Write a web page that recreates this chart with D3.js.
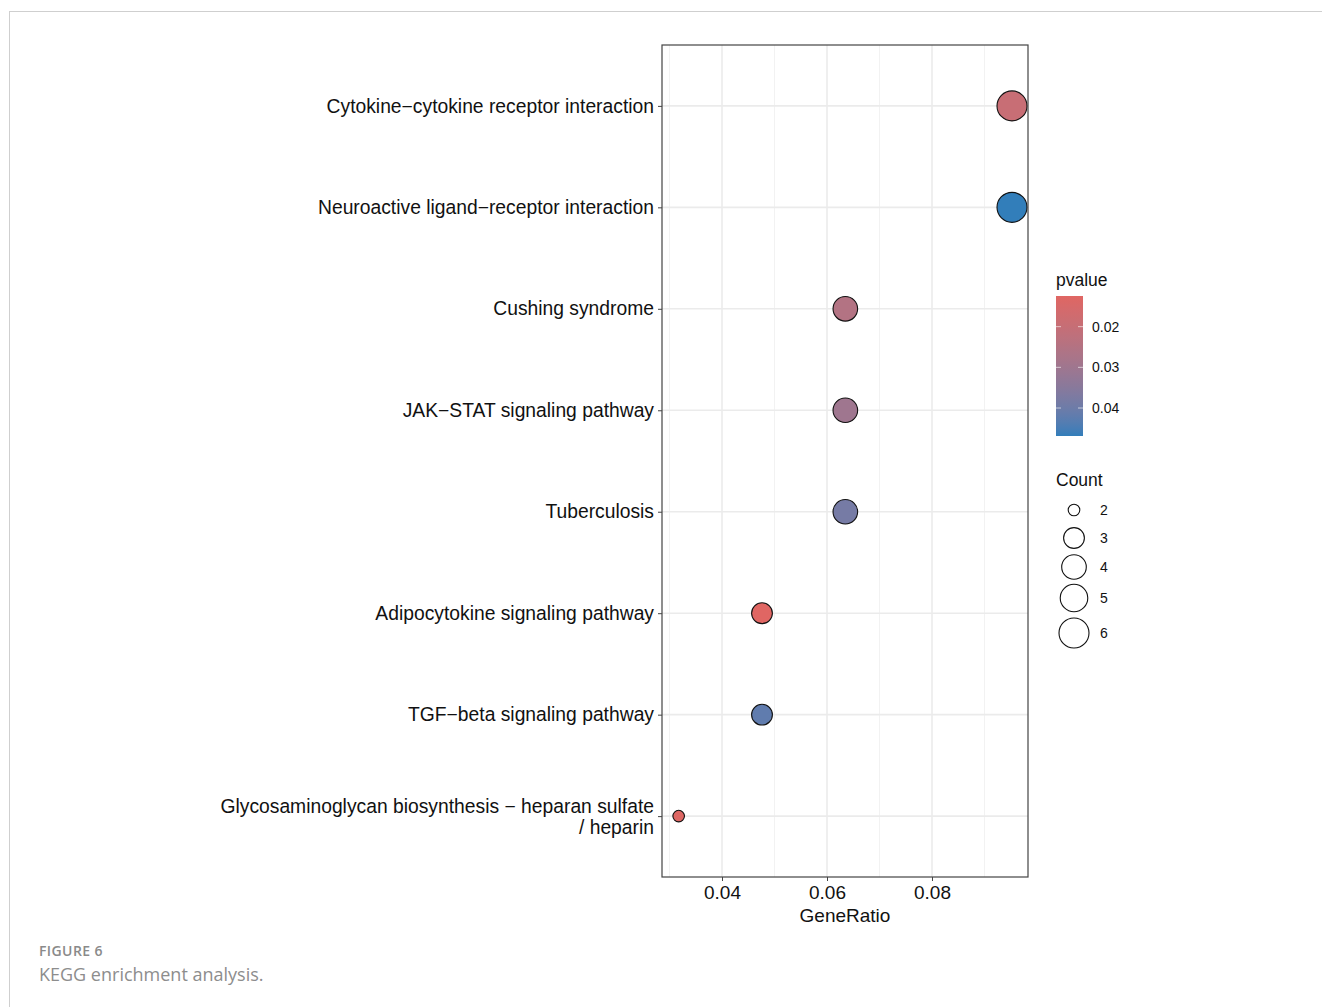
<!DOCTYPE html>
<html>
<head>
<meta charset="utf-8">
<script src="https://cdn.jsdelivr.net/npm/d3@7"></script>
<style>
  html, body { margin: 0; padding: 0; background: #fff; }
  svg { display: block; }
  .plot text { font-family: "Liberation Sans", Arial, sans-serif; }
  .caption { font-family: "Open Sans", sans-serif; }
</style>
</head>
<body>
<svg id="chart" width="1322" height="1007"></svg>
<script>
// KEGG pathways (top to bottom)
const pathways = [
  "Cytokine−cytokine receptor interaction",
  "Neuroactive ligand−receptor interaction",
  "Cushing syndrome",
  "JAK−STAT signaling pathway",
  "Tuberculosis",
  "Adipocytokine signaling pathway",
  "TGF−beta signaling pathway",
  "Glycosaminoglycan biosynthesis − heparan sulfate / heparin"
];
const geneRatio = [6/63, 6/63, 4/63, 4/63, 4/63, 3/63, 3/63, 2/63];
const geneCount = [6, 6, 4, 4, 4, 3, 3, 2];
const pvalues   = [0.0195, 0.0469, 0.0250, 0.0300, 0.0385, 0.0125, 0.0420, 0.0130];

const xTicks = [0.04, 0.06, 0.08];
const xMinor = [0.03, 0.05, 0.07, 0.09];
const pTicks = [0.02, 0.03, 0.04];
const countTicks = [2, 3, 4, 5, 6];

const svg = d3.select("#chart");

// page frame and caption
svg.append("line").attr("x1", 9.5).attr("x2", 9.5).attr("y1", 11).attr("y2", 1007)
  .attr("stroke", "#cfcfcf").attr("stroke-width", 1);
svg.append("line").attr("x1", 9).attr("x2", 1322).attr("y1", 11.5).attr("y2", 11.5)
  .attr("stroke", "#cfcfcf").attr("stroke-width", 1);
svg.append("text").attr("class", "caption").attr("x", 39).attr("y", 956)
  .style("font-size", "14px").style("font-weight", 600)
  .attr("fill", "#8a8a8a").attr("letter-spacing", 0.4).text("FIGURE 6");
svg.append("text").attr("class", "caption").attr("x", 39).attr("y", 981)
  .style("font-size", "18px")
  .attr("fill", "#8d8d8d").text("KEGG enrichment analysis.");

// plot panel
const panel = { left: 662, right: 1028, top: 45, bottom: 877 };

const x = d3.scaleLinear().domain([0.028571, 0.098286]).range([panel.left, panel.right]);
const y = d3.scalePoint().domain(pathways).range([panel.top, panel.bottom]).padding(0.6);

const pExtent = [0.01246, 0.04688];
const color = d3.scaleLinear().domain(pExtent).range(["#e06663", "#327eba"])
  .interpolate(d3.interpolateLab);

const countMin = d3.min(geneCount), countMax = d3.max(geneCount);
const sizeScale = d3.scalePow().exponent(0.5).domain([0, countMax - countMin]).range([5.8, 15]);
const radius = c => sizeScale(c - countMin);

const plot = svg.append("g").attr("class", "plot");
const g = plot.append("g");

// grid
g.selectAll(".minor").data(xMinor).join("line")
  .attr("x1", d => x(d)).attr("x2", d => x(d))
  .attr("y1", panel.top).attr("y2", panel.bottom)
  .attr("stroke", "#f2f2f2").attr("stroke-width", 1);
g.selectAll(".major").data(xTicks).join("line")
  .attr("x1", d => x(d)).attr("x2", d => x(d))
  .attr("y1", panel.top).attr("y2", panel.bottom)
  .attr("stroke", "#ebebeb").attr("stroke-width", 1.6);
g.selectAll(".hgrid").data(pathways).join("line")
  .attr("x1", panel.left).attr("x2", panel.right)
  .attr("y1", d => y(d)).attr("y2", d => y(d))
  .attr("stroke", "#ebebeb").attr("stroke-width", 1.6);

// points
const rows = pathways.map((p, i) => ({ p, r: geneRatio[i], c: geneCount[i], pv: pvalues[i] }));
g.selectAll("circle.pt").data(rows).join("circle")
  .attr("cx", d => x(d.r)).attr("cy", d => y(d.p))
  .attr("r", d => radius(d.c))
  .attr("fill", d => color(d.pv))
  .attr("stroke", "#111").attr("stroke-width", 1.1);

// panel border
g.append("rect").attr("x", panel.left).attr("y", panel.top)
  .attr("width", panel.right - panel.left).attr("height", panel.bottom - panel.top)
  .attr("fill", "none").attr("stroke", "#444").attr("stroke-width", 1.2);

// x axis
const xAxis = d3.axisBottom(x).tickValues(xTicks).tickSize(4).tickPadding(5)
  .tickFormat(d3.format(".2f"));
const xa = plot.append("g").attr("transform", `translate(0,${panel.bottom})`).call(xAxis);
xa.select(".domain").remove();
xa.selectAll(".tick line").attr("stroke", "#444");
xa.selectAll(".tick text").style("font-size", "19px").attr("fill", "#111");
plot.append("text").attr("x", (panel.left + panel.right) / 2).attr("y", 922)
  .attr("text-anchor", "middle").style("font-size", "19px").attr("fill", "#111").text("GeneRatio");

// y axis (long labels wrapped)
const yAxis = d3.axisLeft(y).tickSize(4).tickPadding(4);
const ya = plot.append("g").attr("transform", `translate(${panel.left},0)`).call(yAxis);
ya.select(".domain").remove();
ya.selectAll(".tick line").attr("stroke", "#444");
ya.selectAll(".tick text").style("font-size", "19.3px").attr("fill", "#111")
  .each(function(d) {
    const t = d3.select(this);
    const split = d.indexOf(" / ");
    if (split > 0) {
      const first = d.slice(0, split), second = d.slice(split + 1);
      t.text(null).attr("dy", null);
      t.append("tspan").attr("x", -8).attr("dy", "-0.18em").text(first);
      t.append("tspan").attr("x", -8).attr("dy", "1.1em").text(second);
    }
  });

// colour legend
const lg = plot.append("g");
lg.append("text").attr("x", 1056).attr("y", 286).style("font-size", "17.5px").attr("fill", "#111").text("pvalue");
const barTop = 296, barBottom = 436, barLeft = 1056, barW = 27;
const defs = svg.append("defs");
const grad = defs.append("linearGradient").attr("id", "pgrad")
  .attr("x1", 0).attr("x2", 0).attr("y1", 0).attr("y2", 1);
d3.range(0, 1.0001, 0.05).forEach(t => {
  grad.append("stop").attr("offset", t)
    .attr("stop-color", color(pExtent[0] + t * (pExtent[1] - pExtent[0])));
});
lg.append("rect").attr("x", barLeft).attr("y", barTop).attr("width", barW)
  .attr("height", barBottom - barTop).attr("fill", "url(#pgrad)");
const pY = d3.scaleLinear().domain(pExtent).range([barTop, barBottom]);
pTicks.forEach(v => {
  lg.append("line").attr("x1", barLeft).attr("x2", barLeft + 5).attr("y1", pY(v)).attr("y2", pY(v))
    .attr("stroke", "#fff").attr("stroke-opacity", 0.6).attr("stroke-width", 1);
  lg.append("line").attr("x1", barLeft + barW - 5).attr("x2", barLeft + barW).attr("y1", pY(v)).attr("y2", pY(v))
    .attr("stroke", "#fff").attr("stroke-opacity", 0.6).attr("stroke-width", 1);
  lg.append("text").attr("x", 1092).attr("y", pY(v) + 5).style("font-size", "14px").attr("fill", "#111")
    .text(d3.format(".2f")(v));
});

// size legend
lg.append("text").attr("x", 1056).attr("y", 486).style("font-size", "17.5px").attr("fill", "#111").text("Count");
const countY = [510, 538, 567, 598, 633];
countTicks.forEach((c, i) => {
  lg.append("circle").attr("cx", 1074).attr("cy", countY[i]).attr("r", radius(c))
    .attr("fill", "none").attr("stroke", "#111").attr("stroke-width", 1.1);
  lg.append("text").attr("x", 1100).attr("y", countY[i] + 5).style("font-size", "14px").attr("fill", "#111").text(c);
});
</script>
</body>
</html>
